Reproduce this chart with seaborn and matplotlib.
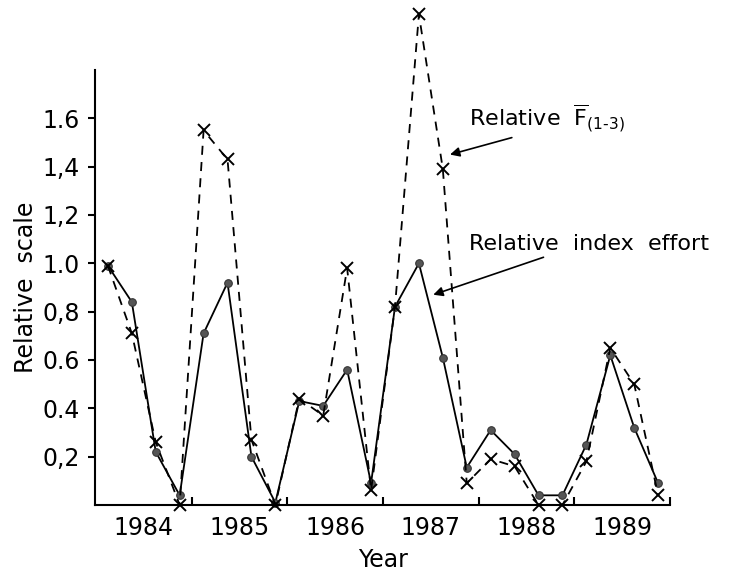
import numpy as np
import pandas as pd
import seaborn as sns
from matplotlib import pyplot as plt
import matplotlib.ticker as ticker

# quarterly values 1984 Q1 .. 1989 Q4
years = [1984, 1985, 1986, 1987, 1988, 1989]
effort = [0.99, 0.84, 0.22, 0.04,
          0.71, 0.92, 0.20, 0.01,
          0.43, 0.41, 0.56, 0.09,
          0.82, 1.00, 0.61, 0.155,
          0.31, 0.21, 0.04, 0.04,
          0.25, 0.62, 0.32, 0.09]
fbar = [0.99, 0.71, 0.26, 0.00,
        1.55, 1.43, 0.27, 0.00,
        0.44, 0.37, 0.98, 0.06,
        0.82, 2.03, 1.39, 0.09,
        0.19, 0.16, 0.00, 0.00,
        0.18, 0.65, 0.50, 0.04]
ytick_values = [0.2, 0.4, 0.6, 0.8, 1.0, 1.2, 1.4, 1.6]
ytick_labels = ["0,2", "0.4", "0.6", "0,8", "1.0", "1,2", "1,4", "1.6"]

df = pd.DataFrame({"q": np.arange(len(effort)), "effort": effort, "fbar": fbar})

sns.set_theme(style="white", rc={"text.color": "black", "axes.labelcolor": "black",
                                 "xtick.color": "black", "ytick.color": "black"})
plt.rcParams['font.family'] = ['DejaVu Sans']
plt.rcParams['mathtext.fontset'] = 'dejavusans'

fig = plt.figure(figsize=(7.38, 5.77), dpi=100)
ax = fig.add_axes([0.1287, 0.1248, 0.908 - 0.1287, 0.8787 - 0.1248])

sns.lineplot(data=df, x="q", y="effort", ax=ax, color="black", lw=1.3,
             marker="o", markersize=5.5, markerfacecolor="#555555",
             markeredgecolor="#333333")
sns.lineplot(data=df, x="q", y="fbar", ax=ax, color="black", lw=1.3,
             linestyle=(0, (5, 4)), marker="x", markersize=8,
             markeredgewidth=1.4, markeredgecolor="black")
for line in ax.lines:
    line.set_clip_on(False)

ax.set_xlim(-0.54, 23.5)
ax.set_ylim(0, 1.8)

sns.despine(ax=ax)
for s in ["left", "bottom"]:
    ax.spines[s].set_color("black")
    ax.spines[s].set_linewidth(1.5)

# year labels centred on each year, boundary ticks pointing inward
ax.set_xticks([4 * i + 1.5 for i in range(len(years))])
ax.set_xticklabels([str(y) for y in years], fontsize=17)
ax.xaxis.set_minor_locator(ticker.FixedLocator([3.5, 7.5, 11.5, 15.5, 19.5, 23.5]))
ax.tick_params(axis="x", which="major", length=0, pad=8)
ax.tick_params(axis="x", which="minor", direction="in", length=6, width=1.5,
               bottom=True, color="black")

ax.set_yticks(ytick_values)
ax.set_yticklabels(ytick_labels, fontsize=17)
ax.tick_params(axis="y", which="major", direction="out", length=5, width=1.5,
               left=True, color="black", pad=6)

ax.set_xlabel("Year", fontsize=17, labelpad=6)
ax.set_ylabel("Relative  scale", fontsize=17, labelpad=3)

ax.annotate(r"Relative  $\overline{\mathregular{F}}_{\mathregular{(1\text{-}3)}}$",
            xy=(14.3, 1.45), xytext=(15.1, 1.6),
            fontsize=16, ha="left", va="center",
            arrowprops=dict(arrowstyle="-|>", color="black", lw=1.2,
                            shrinkA=0, shrinkB=0, mutation_scale=14,
                            relpos=(0.35, 0.0)))
ax.annotate("Relative  index  effort",
            xy=(13.6, 0.87), xytext=(15.1, 1.08),
            fontsize=16, ha="left", va="center",
            arrowprops=dict(arrowstyle="-|>", color="black", lw=1.2,
                            shrinkA=0, shrinkB=0, mutation_scale=14,
                            relpos=(0.35, 0.0)))

fig.savefig("out.png", dpi=100)
